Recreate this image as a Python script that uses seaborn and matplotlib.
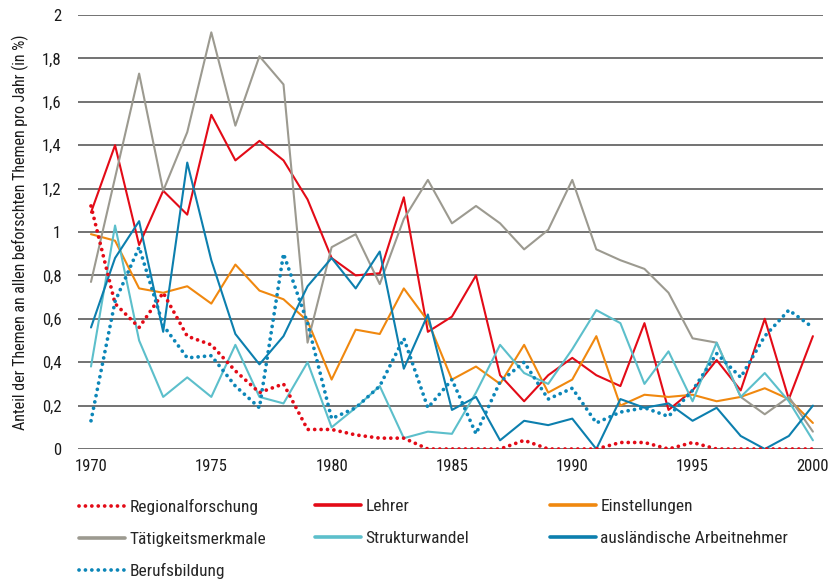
import numpy as np
import pandas as pd
import matplotlib
matplotlib.use("Agg")
import matplotlib.pyplot as plt
from matplotlib import font_manager as fm
from matplotlib.lines import Line2D
from matplotlib.ticker import FuncFormatter
import seaborn as sns

years = list(range(1970, 2001))

regionalforschung = [1.12, 0.67, 0.56, 0.72, 0.52, 0.48, 0.36, 0.26, 0.30, 0.09,
                     0.09, 0.065, 0.05, 0.05, 0.0, 0.0, 0.0, 0.0, 0.04, 0.0,
                     0.0, 0.0, 0.03, 0.03, 0.0, 0.03, 0.0, 0.0, 0.0, 0.0, 0.0]
lehrer = [1.09, 1.40, 0.94, 1.19, 1.08, 1.54, 1.33, 1.42, 1.33, 1.15,
          0.88, 0.80, 0.81, 1.16, 0.54, 0.61, 0.80, 0.34, 0.22, 0.34,
          0.42, 0.34, 0.29, 0.58, 0.18, 0.27, 0.41, 0.27, 0.60, 0.23, 0.52]
einstellungen = [0.99, 0.96, 0.74, 0.72, 0.75, 0.67, 0.85, 0.73, 0.69, 0.59,
                 0.32, 0.55, 0.53, 0.74, 0.59, 0.32, 0.38, 0.30, 0.48, 0.26,
                 0.32, 0.52, 0.20, 0.25, 0.24, 0.25, 0.22, 0.24, 0.28, 0.23, 0.12]
taetigkeitsmerkmale = [0.77, 1.25, 1.73, 1.19, 1.46, 1.92, 1.49, 1.81, 1.68, 0.49,
                       0.93, 0.99, 0.76, 1.06, 1.24, 1.04, 1.12, 1.04, 0.92, 1.01,
                       1.24, 0.92, 0.87, 0.83, 0.72, 0.51, 0.49, 0.24, 0.16, 0.24, 0.08]
strukturwandel = [0.38, 1.03, 0.50, 0.24, 0.33, 0.24, 0.48, 0.24, 0.21, 0.40,
                  0.10, 0.19, 0.29, 0.05, 0.08, 0.07, 0.26, 0.48, 0.35, 0.30,
                  0.46, 0.64, 0.58, 0.30, 0.45, 0.22, 0.49, 0.24, 0.35, 0.22, 0.04]
auslaendische = [0.56, 0.88, 1.05, 0.54, 1.32, 0.87, 0.53, 0.39, 0.52, 0.75,
                 0.88, 0.74, 0.91, 0.37, 0.62, 0.18, 0.24, 0.04, 0.13, 0.11,
                 0.14, 0.0, 0.23, 0.19, 0.21, 0.13, 0.19, 0.06, 0.0, 0.06, 0.20]
berufsbildung = [0.13, 0.68, 0.93, 0.57, 0.42, 0.43, 0.29, 0.19, 0.90, 0.58,
                 0.14, 0.19, 0.29, 0.51, 0.19, 0.32, 0.07, 0.31, 0.40, 0.23,
                 0.28, 0.12, 0.17, 0.19, 0.15, 0.27, 0.44, 0.33, 0.52, 0.64, 0.56]

series = [
    ("Regionalforschung", regionalforschung, "#e30b17", "dot"),
    ("Lehrer", lehrer, "#e30b17", "solid"),
    ("Einstellungen", einstellungen, "#f0880f", "solid"),
    ("Tätigkeitsmerkmale", taetigkeitsmerkmale, "#9c9a90", "solid"),
    ("Strukturwandel", strukturwandel, "#5cbfcb", "solid"),
    ("ausländische Arbeitnehmer", auslaendische, "#0c7fae", "solid"),
    ("Berufsbildung", berufsbildung, "#0c86b8", "dot"),
]


def _pick_font():
    # the reference uses a condensed face; take one if the machine has it
    fonts = fm.fontManager.ttflist
    names = {f.name for f in fonts}
    for fam in ["Liberation Sans Narrow", "Roboto Condensed", "Open Sans Condensed",
                "Noto Sans Condensed", "DejaVu Sans Condensed"]:
        if fam in names:
            return fam, None, 1.0
    for fam in ["DejaVu Sans", "Noto Sans", "Roboto", "Open Sans"]:
        if any(f.name == fam and f.stretch in ("condensed", "semi-condensed")
               for f in fonts if isinstance(f.stretch, str)):
            return fam, "condensed", 1.0
    return "Liberation Sans", None, 0.86


family, stretch, scale = _pick_font()

sns.set_theme(style="white")
plt.rcParams["font.family"] = [family, "DejaVu Sans"]
if stretch:
    plt.rcParams["font.stretch"] = stretch

fs_tick = 12 * scale
fs_leg = 12.5 * scale
fs_lab = 11.5 * scale

fig = plt.figure(figsize=(8.35, 5.82), dpi=100)
ax = fig.add_axes([78 / 835, 1 - 449 / 582, (823 - 78) / 835, (449 - 15) / 582])

# gridlines first so data sits on top
for v in np.arange(0, 2.01, 0.2):
    ax.axhline(v, color="#5a5a5a", lw=1.2, zorder=0)

dot = (0, (0.01, 1.7))
handles = {}
for name, vals, color, style in series:
    df = pd.DataFrame({"Jahr": years, "Wert": vals})
    if style == "dot":
        sns.lineplot(data=df, x="Jahr", y="Wert", ax=ax, color=color, lw=2.7,
                     linestyle=dot, dash_capstyle="round", zorder=3)
        handles[name] = Line2D([], [], color=color, lw=2.7, linestyle=dot,
                               dash_capstyle="round")
    else:
        sns.lineplot(data=df, x="Jahr", y="Wert", ax=ax, color=color, lw=1.5, zorder=2)
        handles[name] = Line2D([], [], color=color, lw=2.6)

ax.set_xlim(1969.46, 2000.42)
ax.set_ylim(0, 2)
ax.set_xticks(range(1970, 2001, 5))
ax.set_yticks(np.arange(0, 2.01, 0.2))


def _fmt(v, pos):
    if abs(v - round(v)) < 1e-9:
        return f"{int(round(v))}"
    return f"{v:.1f}".replace(".", ",")


ax.yaxis.set_major_formatter(FuncFormatter(_fmt))
ax.tick_params(axis="both", length=0, labelsize=fs_tick, colors="#1a1a1a")
ax.tick_params(axis="x", pad=7)
ax.tick_params(axis="y", pad=12)
for s in ax.spines.values():
    s.set_visible(False)
ax.set_xlabel("")
ax.set_ylabel("Anteil der Themen an allen beforschten Themen pro Jahr (in %)", fontsize=fs_lab,
              color="#1a1a1a", labelpad=9)

# legend: three columns positioned by hand
cols = [
    (79, ["Regionalforschung", "Tätigkeitsmerkmale", "Berufsbildung"]),
    (315, ["Lehrer", "Strukturwandel"]),
    (550, ["Einstellungen", "ausländische Arbeitnehmer"]),
]
for x0, names in cols:
    fig.legend([handles[n] for n in names], names, loc="upper left",
               bbox_to_anchor=(x0 / 835, 1 - 499 / 582), frameon=False,
               fontsize=fs_leg, handlelength=2.65, handletextpad=0.25,
               labelspacing=0.95, borderpad=0, borderaxespad=0)

fig.savefig("out.png", dpi=100)
